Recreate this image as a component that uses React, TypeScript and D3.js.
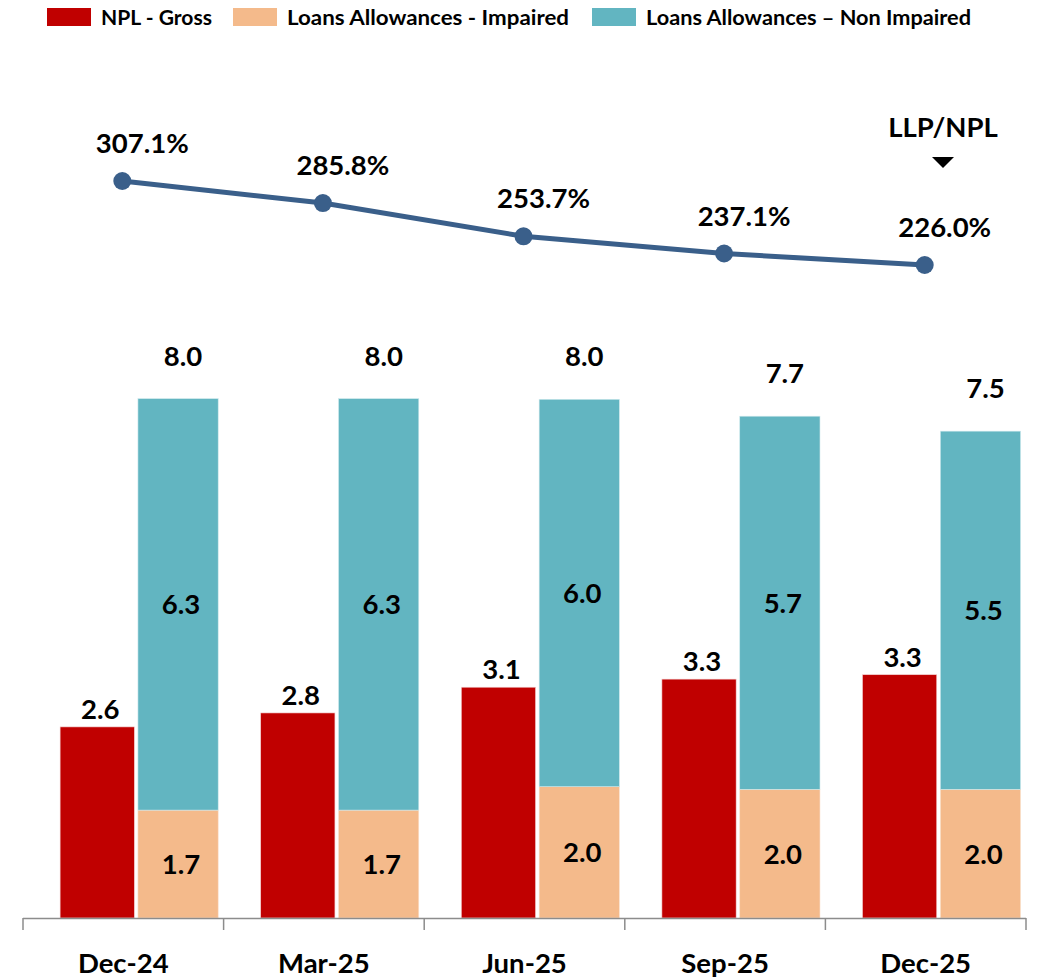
import React from "react";
import * as d3 from "d3";

const categories = ["Dec-24", "Mar-25", "Jun-25", "Sep-25", "Dec-25"];
const nplGross = [2.6, 2.79, 3.14, 3.25, 3.31];
const allowImpaired = [1.66, 1.66, 2.02, 1.98, 1.98];
const allowNonImpaired = [6.33, 6.33, 5.96, 5.74, 5.51];
const llpNpl = [307.1, 285.8, 253.7, 237.1, 226.0];

const legendItems = [
  { label: "NPL - Gross", color: "#C00000", len: 111 },
  { label: "Loans Allowances - Impaired", color: "#F4BA8B", len: 282 },
  { label: "Loans Allowances \u2013 Non Impaired", color: "#62B5C1", len: 325 },
];

const FONT = "Lato, 'Open Sans', sans-serif";
const FS = 27.5;

export default function App() {
  const W = 1038;
  const H = 978;
  const baseY = 918;
  const x = d3.scaleBand<string>().domain(categories).range([23, 1026]).padding(0);
  const bw = x.bandwidth();
  const yStack = d3.scaleLinear().domain([0, 10]).range([baseY, baseY - 650]);
  const yNpl = d3.scaleLinear().domain([0, 10]).range([baseY, baseY - 735]);
  const yLine = d3.scaleLinear().domain([226, 307.1]).range([265, 181]);

  const redOff = 0.185 * bw;
  const redW = 0.37 * bw;
  const tealOff = 0.573 * bw;
  const tealW = 0.4 * bw;

  const pts = categories.map((c, i) => [x(c)! + bw / 2 - 1, yLine(llpNpl[i])] as [number, number]);
  const line = d3.line()(pts) || "";

  const legendX = [47, 233, 592];

  return (
    <svg width={W} height={H} style={{ position: "absolute", left: 0, top: 0 }} fontFamily={FONT}>
      {/* legend */}
      {legendItems.map((d, i) => (
        <g key={d.label}>
          <rect x={legendX[i]} y={8} width={44} height={18} fill={d.color} />
          <text x={legendX[i] + 54} y={25} fontSize={21} fontWeight={700} fill="#000" textLength={d.len} lengthAdjust="spacingAndGlyphs">
            {d.label}
          </text>
        </g>
      ))}

      {/* bars */}
      {categories.map((c, i) => {
        const x0 = x(c)!;
        const tot = allowImpaired[i] + allowNonImpaired[i];
        const rx = x0 + redOff;
        const tx = x0 + tealOff;
        return (
          <g key={c}>
            <rect x={rx} y={yNpl(nplGross[i])} width={redW} height={baseY - yNpl(nplGross[i])} fill="#C00000" stroke="#f3d0d0" strokeWidth={0.6} />
            <rect x={tx} y={yStack(allowImpaired[i])} width={tealW} height={baseY - yStack(allowImpaired[i])} fill="#F4BA8B" stroke="#fbe3cf" strokeWidth={0.6} />
            <rect x={tx} y={yStack(tot)} width={tealW} height={yStack(allowImpaired[i]) - yStack(tot)} fill="#62B5C1" stroke="#cfe9ed" strokeWidth={0.6} />
            <text x={rx + redW / 2 + 3} y={yNpl(nplGross[i]) - 8} textAnchor="middle" fontSize={FS} fontWeight={700}>
              {nplGross[i].toFixed(1)}
            </text>
            <text x={tx + tealW / 2 + 3} y={(baseY + yStack(allowImpaired[i])) / 2 + 10} textAnchor="middle" fontSize={FS} fontWeight={700}>
              {allowImpaired[i].toFixed(1)}
            </text>
            <text x={tx + tealW / 2 + 3} y={(yStack(allowImpaired[i]) + yStack(tot)) / 2 + 10} textAnchor="middle" fontSize={FS} fontWeight={700}>
              {allowNonImpaired[i].toFixed(1)}
            </text>
            <text x={tx + tealW / 2 + 5} y={yStack(tot) - 33} textAnchor="middle" fontSize={FS} fontWeight={700}>
              {tot.toFixed(1)}
            </text>
            <text x={x0 + bw / 2} y={973} textAnchor="middle" fontSize={FS} fontWeight={700}>
              {c}
            </text>
          </g>
        );
      })}

      {/* axis */}
      <line x1={23} x2={1026} y1={baseY + 0.5} y2={baseY + 0.5} stroke="#8c8c8c" strokeWidth={1.5} />
      {[...categories.map((c) => x(c)!), 1026].map((t, i) => (
        <line key={i} x1={t} x2={t} y1={baseY} y2={930} stroke="#8c8c8c" strokeWidth={1.5} />
      ))}

      {/* line */}
      <path d={line} fill="none" stroke="#3A5F8A" strokeWidth={5} />
      {pts.map((p, i) => (
        <g key={i}>
          <circle cx={p[0]} cy={p[1]} r={9} fill="#3A5F8A" />
          <text x={p[0] + 20} y={p[1] - 28} textAnchor="middle" fontSize={FS} fontWeight={700}>
            {llpNpl[i].toFixed(1) + "%"}
          </text>
        </g>
      ))}

      {/* LLP/NPL annotation */}
      <text x={943} y={137} textAnchor="middle" fontSize={FS} fontWeight={700}>
        LLP/NPL
      </text>
      <path d="M932,157 L954,157 L943,168 Z" fill="#000" />
    </svg>
  );
}
